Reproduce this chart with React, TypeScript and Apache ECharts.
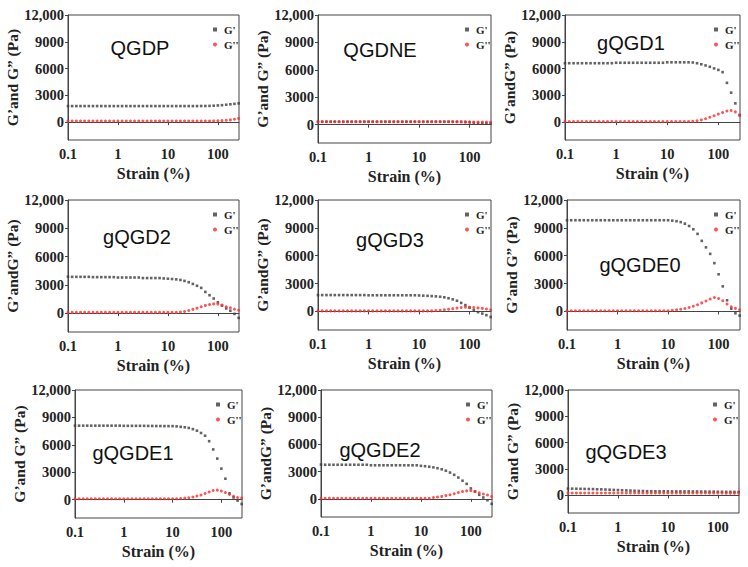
import React, { useEffect, useRef } from "react";
import * as echarts from "echarts";

// Strain (%) values, log sweep
const strain = [
  0.1, 0.121, 0.147, 0.178, 0.215, 0.261, 0.316, 0.383, 0.464, 0.562, 0.681, 0.825,
  1, 1.21, 1.47, 1.78, 2.15, 2.61, 3.16, 3.83, 4.64, 5.62, 6.81, 8.25,
  10, 12.1, 14.7, 17.8, 21.5, 26.1, 31.6, 38.3, 46.4, 56.2, 68.1, 82.5,
  100, 121, 147, 178, 215, 261,
];

const yTicks = [0, 3000, 6000, 9000, 12000];
const xTicks = [0.1, 1, 10, 100];

const panelNames = ["QGDP", "QGDNE", "gQGD1", "gQGD2", "gQGD3", "gQGDE0", "gQGDE1", "gQGDE2", "gQGDE3"];

// G' (storage modulus) and G'' (loss modulus) per sample
const qgdpG1 = [1800,1800,1800,1800,1800,1800,1800,1800,1800,1800,1800,1800,1800,1800,1800,1800,1800,1800,1800,1800,1800,1800,1800,1800,1800,1800,1800,1800,1800,1800,1800,1800,1810,1810,1820,1840,1870,1900,1950,2000,2050,2100];
const qgdpG2 = [130,130,130,130,130,130,130,130,130,130,130,130,130,130,130,130,130,130,130,130,130,130,130,130,130,130,130,130,130,130,130,130,130,130,135,140,150,170,200,250,320,420];

const qgdneG1 = [330,330,330,330,330,330,330,330,330,330,330,330,330,330,330,330,330,330,330,330,330,330,330,330,330,330,330,330,330,330,330,330,330,320,310,290,260,230,200,180,160,150];
const qgdneG2 = [320,320,320,320,320,320,320,320,320,320,320,320,320,320,320,320,320,320,320,320,320,320,320,320,320,320,320,320,320,320,320,320,320,320,315,310,310,300,295,290,285,280];

const gqgd1G1 = [6600,6600,6600,6600,6600,6600,6600,6600,6600,6600,6600,6600,6650,6650,6650,6650,6650,6650,6650,6650,6650,6650,6650,6650,6700,6700,6700,6700,6700,6700,6680,6600,6480,6350,6200,6020,5850,5600,4400,3300,2100,800];
const gqgd1G2 = [80,80,80,80,80,80,80,80,80,80,80,80,80,80,80,80,80,80,80,80,80,80,80,80,80,80,80,80,80,80,100,150,250,380,550,720,900,1080,1250,1300,1150,750];

const gqgd2G1 = [3870,3850,3850,3850,3850,3850,3820,3820,3820,3820,3820,3820,3780,3780,3780,3780,3780,3780,3720,3720,3720,3720,3720,3680,3650,3620,3580,3520,3420,3280,3100,2900,2680,2250,1900,1550,1150,800,500,250,-80,-500];
const gqgd2G2 = [80,80,80,80,80,80,80,80,80,80,80,80,80,80,80,80,80,80,80,80,80,80,80,80,80,80,80,120,180,280,400,530,680,820,920,980,960,850,680,560,420,300];

const gqgd3G1 = [1760,1760,1760,1760,1760,1760,1760,1760,1760,1760,1760,1760,1740,1740,1740,1740,1740,1740,1740,1740,1740,1740,1740,1740,1720,1700,1680,1650,1620,1580,1520,1420,1300,1150,920,680,400,150,-80,-230,-400,-600];
const gqgd3G2 = [60,60,60,60,60,60,60,60,60,60,60,60,60,60,60,60,60,60,60,60,60,60,60,60,60,60,60,60,90,120,170,230,300,360,420,460,460,420,380,330,260,180];

const gqgde0G1 = [9820,9820,9820,9820,9820,9820,9820,9820,9820,9820,9820,9820,9820,9820,9820,9820,9820,9820,9820,9820,9820,9820,9820,9820,9820,9780,9720,9620,9450,9200,8850,8350,7600,6900,6200,5200,4000,2700,1200,300,-200,-450];
const gqgde0G2 = [70,70,70,70,70,70,70,70,70,70,70,70,70,70,70,70,70,70,70,70,70,70,70,70,70,120,170,240,320,420,560,720,920,1130,1330,1500,1400,1150,800,500,330,180];

const gqgde1G1 = [8100,8100,8100,8100,8100,8100,8100,8100,8100,8100,8100,8100,8080,8080,8080,8080,8080,8080,8070,8070,8060,8060,8050,8050,8050,8020,7970,7920,7850,7720,7550,7300,7000,6400,5500,4500,3400,2300,700,250,-100,-470];
const gqgde1G2 = [100,100,100,100,100,100,100,100,100,100,100,100,100,100,100,100,100,100,100,100,100,100,100,100,100,100,130,170,220,300,400,520,680,850,1000,1050,950,780,580,380,250,180];

const gqgde2G1 = [3780,3760,3760,3760,3760,3760,3760,3760,3760,3760,3760,3760,3700,3700,3700,3700,3700,3700,3700,3700,3700,3700,3700,3700,3640,3600,3540,3470,3380,3260,3100,2900,2650,2350,2000,1650,1150,800,450,150,-150,-550];
const gqgde2G2 = [60,60,60,60,60,60,60,60,60,60,60,60,60,60,60,60,60,60,60,60,60,60,60,60,60,60,60,150,200,270,360,450,570,700,800,880,900,820,680,540,420,260];

const gqgde3G1 = [780,770,760,750,740,730,720,700,690,670,650,630,610,590,570,550,530,510,500,480,480,470,470,470,460,460,460,460,460,460,450,450,440,440,430,430,420,420,410,410,400,400];
const gqgde3G2 = [270,270,270,270,270,270,270,270,270,270,270,270,270,270,270,270,270,270,270,270,270,270,270,270,270,270,270,270,270,270,270,270,270,270,265,265,265,265,260,260,260,260];

const storage = [qgdpG1, qgdneG1, gqgd1G1, gqgd2G1, gqgd3G1, gqgde0G1, gqgde1G1, gqgde2G1, gqgde3G1];
const loss = [qgdpG2, qgdneG2, gqgd1G2, gqgd2G2, gqgd3G2, gqgde0G2, gqgde1G2, gqgde2G2, gqgde3G2];

const yNames = [
  "G\u2019and G\u201D (Pa)",
  "G\u2019and G\u201D (Pa)",
  "G\u2019andG\u201D (Pa)",
  "G\u2019andG\u201D (Pa)",
  "G\u2019andG\u201D (Pa)",
  "G\u2019and G\u201D (Pa)",
  "G\u2019and G\u201D (Pa)",
  "G\u2019andG\u201D (Pa)",
  "G\u2019and G\u201D (Pa)",
];

// layout: grid boxes [left, top, width, height] and title centre [x, y]
const layout = [
  { g: [68, 15, 171, 125], t: [140, 48] },
  { g: [318, 15, 173, 128], t: [380, 50] },
  { g: [565, 15, 175, 125], t: [631, 43] },
  { g: [68, 200, 171, 132], t: [137, 237] },
  { g: [318, 200, 173, 130], t: [390, 240] },
  { g: [567, 200, 173, 130], t: [640, 265] },
  { g: [75, 390, 167, 128], t: [133, 453] },
  { g: [321, 390, 171, 127], t: [380, 450] },
  { g: [568, 390, 171, 123], t: [626, 452] },
];

const G1 = "G'";
const G2 = "G''";
const serif = "'Liberation Serif', 'Times New Roman', serif";

export default function App() {
  const ref = useRef<HTMLDivElement>(null);
  useEffect(() => {
    if (!ref.current) return;
    const chart = echarts.init(ref.current, null, { renderer: "svg" });
    const grids: any[] = [];
    const xAxes: any[] = [];
    const yAxes: any[] = [];
    const series: any[] = [];
    const legends: any[] = [];
    const graphics: any[] = [];
    const axisColor = "#444";
    layout.forEach((p, i) => {
      const [l, t, w, h] = p.g;
      grids.push({ left: l, top: t, width: w, height: h, show: true, borderColor: axisColor, borderWidth: 1, containLabel: false });
      xAxes.push({
        type: "log", logBase: 10, gridIndex: i, min: 0.1, max: 265,
        axisLine: { show: true, lineStyle: { color: axisColor, width: 1 } },
        axisTick: { show: true, length: 3, lineStyle: { color: axisColor } },
        minorTick: { show: false },
        splitLine: { show: false },
        axisLabel: {
          showMaxLabel: false, margin: 6,
          formatter: (v: number) => (xTicks.some((k) => Math.abs(k - v) / k < 1e-6) ? String(v >= 1 ? Math.round(v) : 0.1) : ""),
          fontFamily: serif, fontWeight: "bold", fontSize: 14.5, color: "#222",
        },
        name: "Strain (%)", nameLocation: "middle", nameGap: 25,
        nameTextStyle: { fontFamily: serif, fontWeight: "bold", fontSize: 16, color: "#222" },
      });
      yAxes.push({
        type: "value", gridIndex: i, min: -2000, max: 12000,
        axisLine: { show: true, lineStyle: { color: axisColor, width: 1 } },
        axisTick: { show: true, length: 3, customValues: yTicks, lineStyle: { color: axisColor } },
        splitLine: { show: false },
        axisLabel: {
          customValues: yTicks, margin: 4,
          formatter: (v: number) => (v === 12000 ? "12,000" : String(v)),
          fontFamily: serif, fontWeight: "bold", fontSize: 14.5, color: "#222",
        },
        name: yNames[i], nameLocation: "middle", nameGap: 46,
        nameTextStyle: { fontFamily: serif, fontWeight: "bold", fontSize: 15.5, color: "#222" },
      });
      series.push({
        type: "scatter", name: G1, xAxisIndex: i, yAxisIndex: i, symbol: "rect", symbolSize: 2.6,
        itemStyle: { color: "#3c3c3c" }, clip: true,
        data: strain.map((x, k) => [x, storage[i][k]]),
      });
      series.push({
        type: "scatter", name: G2, xAxisIndex: i, yAxisIndex: i, symbol: "circle", symbolSize: 3,
        itemStyle: { color: "#ff2a2a" }, clip: true,
        data: strain.map((x, k) => [x, loss[i][k]]),
      });
      legends.push({
        left: l + w - 31, top: t + 4, orient: "vertical", itemWidth: 4, itemHeight: 4, itemGap: 4,
        data: [{ name: G1, icon: "rect" }, { name: G2, icon: "circle" }],
        textStyle: { fontFamily: serif, fontWeight: "bold", fontSize: 11, color: "#222", padding: [0, 0, 0, 2] },
        selectedMode: false,
      });
      graphics.push({
        type: "text", x: p.t[0], y: p.t[1],
        style: { text: panelNames[i], font: "20px 'Liberation Sans', Arial, sans-serif", fill: "#111", textAlign: "center", textVerticalAlign: "middle" },
      });
    });
    chart.setOption({
      animation: false,
      backgroundColor: "#fff",
      grid: grids, xAxis: xAxes, yAxis: yAxes, series, legend: legends, graphic: graphics,
    });
    return () => chart.dispose();
  }, []);
  return <div ref={ref} style={{ position: "fixed", left: 0, top: 0, width: 748, height: 567 }} />;
}
